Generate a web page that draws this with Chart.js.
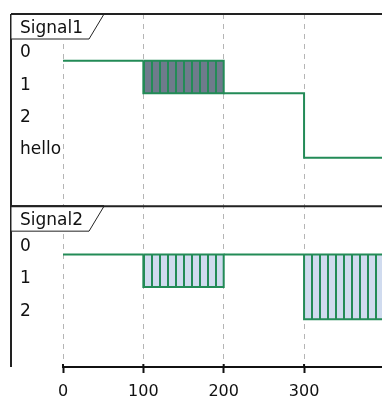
<!DOCTYPE html>
<html>
<head>
<meta charset="utf-8">
<script src="https://cdn.jsdelivr.net/npm/chart.js@4"></script>
<style>
  html, body { margin: 0; padding: 0; background: #fff; }
  canvas { display: block; }
</style>
</head>
<body>
<canvas id="timing" width="382" height="399"></canvas>
<script>
// timing diagram data
const xTickValues = [0, 100, 200, 300];
const signalNames = ['Signal1', 'Signal2'];

const signal1States = ['0', '1', '2', 'hello'];
const signal1Times = [0, 100, 200, 300];
const signal1Values = ['0', ['0', '1'], '1', 'hello'];

const signal2States = ['0', '1', '2'];
const signal2Times = [0, 100, 200, 300];
const signal2Values = ['0', ['0', '1'], '0', ['0', '2']];

const timeEnd = 400;

const GREEN = '#238b57';
const FONT = 'DejaVu Sans, sans-serif';
const ROW_OFFSET = [0, 6]; // where each signal's first state sits on the shared y scale
const ROW_SPLIT = 4.5;

function hatch(bg) {
  const c = document.createElement('canvas');
  c.width = 8;
  c.height = 8;
  const g = c.getContext('2d');
  g.fillStyle = bg;
  g.fillRect(0, 0, 8, 8);
  g.fillStyle = GREEN;
  g.fillRect(7, 0, 1, 8);
  g.fillRect(0, 0, 1, 8);
  return g.createPattern(c, 'repeat');
}

function buildSignal(times, values, states, offset, boxFill) {
  const level = (s) => offset + states.indexOf(s);
  const path = [];
  const boxes = [];
  times.forEach((t, i) => {
    const end = i + 1 < times.length ? times[i + 1] : timeEnd;
    const v = values[i];
    if (Array.isArray(v)) {
      const lo = level(v[0]);
      const hi = level(v[1]);
      boxes.push([
        { x: t, y: lo }, { x: end, y: lo }, { x: end, y: hi }, { x: t, y: hi }, { x: t, y: lo },
      ]);
      path.push({ x: t, y: null });
    } else {
      path.push({ x: t, y: level(v) }, { x: end, y: level(v) });
    }
  });

  const sets = [{
    data: path,
    showLine: true,
    borderColor: GREEN,
    borderWidth: 2,
    pointRadius: 0,
    spanGaps: false,
    fill: false,
  }];
  boxes.forEach((b) => {
    sets.push({
      data: b,
      showLine: true,
      borderColor: GREEN,
      borderWidth: 2,
      pointRadius: 0,
      fill: 'shape',
      backgroundColor: boxFill,
    });
  });
  return sets;
}

const tickLabels = {};
signal1States.forEach((s, i) => { tickLabels[ROW_OFFSET[0] + i] = s; });
signal2States.forEach((s, i) => { tickLabels[ROW_OFFSET[1] + i] = s; });

const framePlugin = {
  id: 'frame',
  afterDatasetsDraw(chart) {
    const { ctx, chartArea, scales } = chart;
    const W = chart.width;
    const left = 11;
    const tops = [chartArea.top, scales.y.getPixelForValue(ROW_SPLIT)];

    ctx.save();
    ctx.strokeStyle = '#222';
    ctx.lineWidth = 2;
    ctx.beginPath();
    ctx.moveTo(left, chartArea.top);
    ctx.lineTo(left, chartArea.bottom);
    tops.forEach((y) => {
      ctx.moveTo(left, y);
      ctx.lineTo(W, y);
    });
    ctx.stroke();

    // small tick stubs above the time axis
    const xs = scales.x;
    ctx.beginPath();
    xTickValues.forEach((v) => {
      const px = xs.getPixelForValue(v);
      ctx.moveTo(px, chartArea.bottom - 3);
      ctx.lineTo(px, chartArea.bottom);
    });
    ctx.strokeStyle = '#111';
    ctx.stroke();

    ctx.font = '17px ' + FONT;
    tops.forEach((y, i) => {
      const tw = ctx.measureText(signalNames[i]).width;
      const r = 20 + tw + 21;
      ctx.beginPath();
      ctx.moveTo(left, y);
      ctx.lineTo(r, y);
      ctx.lineTo(r - 15, y + 25);
      ctx.lineTo(left, y + 25);
      ctx.closePath();
      ctx.fillStyle = '#fff';
      ctx.fill();
      ctx.lineWidth = 1;
      ctx.strokeStyle = '#222';
      ctx.stroke();
      ctx.lineWidth = 2;
      ctx.beginPath();
      ctx.moveTo(left, y);
      ctx.lineTo(r, y);
      ctx.stroke();
      ctx.fillStyle = '#111';
      ctx.textBaseline = 'middle';
      ctx.textAlign = 'left';
      ctx.fillText(signalNames[i], 20, y + 14.5);
    });
    ctx.restore();
  },
};

new Chart(document.getElementById('timing'), {
  type: 'scatter',
  data: {
    datasets: [
      ...buildSignal(signal1Times, signal1Values, signal1States, ROW_OFFSET[0], hatch('#6e7b8c')),
      ...buildSignal(signal2Times, signal2Values, signal2States, ROW_OFFSET[1], hatch('#d0dbef')),
    ],
  },
  options: {
    responsive: false,
    animation: false,
    layout: { padding: { left: 20, top: 14, right: 0, bottom: 0 } },
    plugins: {
      legend: { display: false },
      tooltip: { enabled: false },
    },
    scales: {
      x: {
        type: 'linear',
        min: 0,
        max: 397,
        afterBuildTicks: (scale) => {
          scale.ticks = xTickValues.map((v) => ({ value: v }));
        },
        afterFit: (scale) => { scale.height = 32; },
        grid: {
          color: '#b5b5b5',
          lineWidth: 1,
          tickLength: 6,
          tickWidth: 2,
          tickColor: '#111',
          tickBorderDash: [],
        },
        border: { display: true, color: '#111', width: 2, dash: [5, 5] },
        ticks: {
          padding: 9,
          color: '#111',
          maxRotation: 0,
          font: { family: FONT, size: 16 },
        },
      },
      y: {
        type: 'linear',
        reverse: true,
        min: -1.45,
        max: 9.48,
        afterBuildTicks: (scale) => {
          scale.ticks = Object.keys(tickLabels).map((v) => ({ value: Number(v) }));
        },
        afterFit: (scale) => { scale.width = 43; },
        grid: { display: false },
        border: { display: false },
        ticks: {
          crossAlign: 'far',
          labelOffset: -8,
          color: '#111',
          font: { family: FONT, size: 17 },
          callback: (v) => tickLabels[v],
        },
      },
    },
  },
  plugins: [framePlugin],
});
</script>
</body>
</html>
